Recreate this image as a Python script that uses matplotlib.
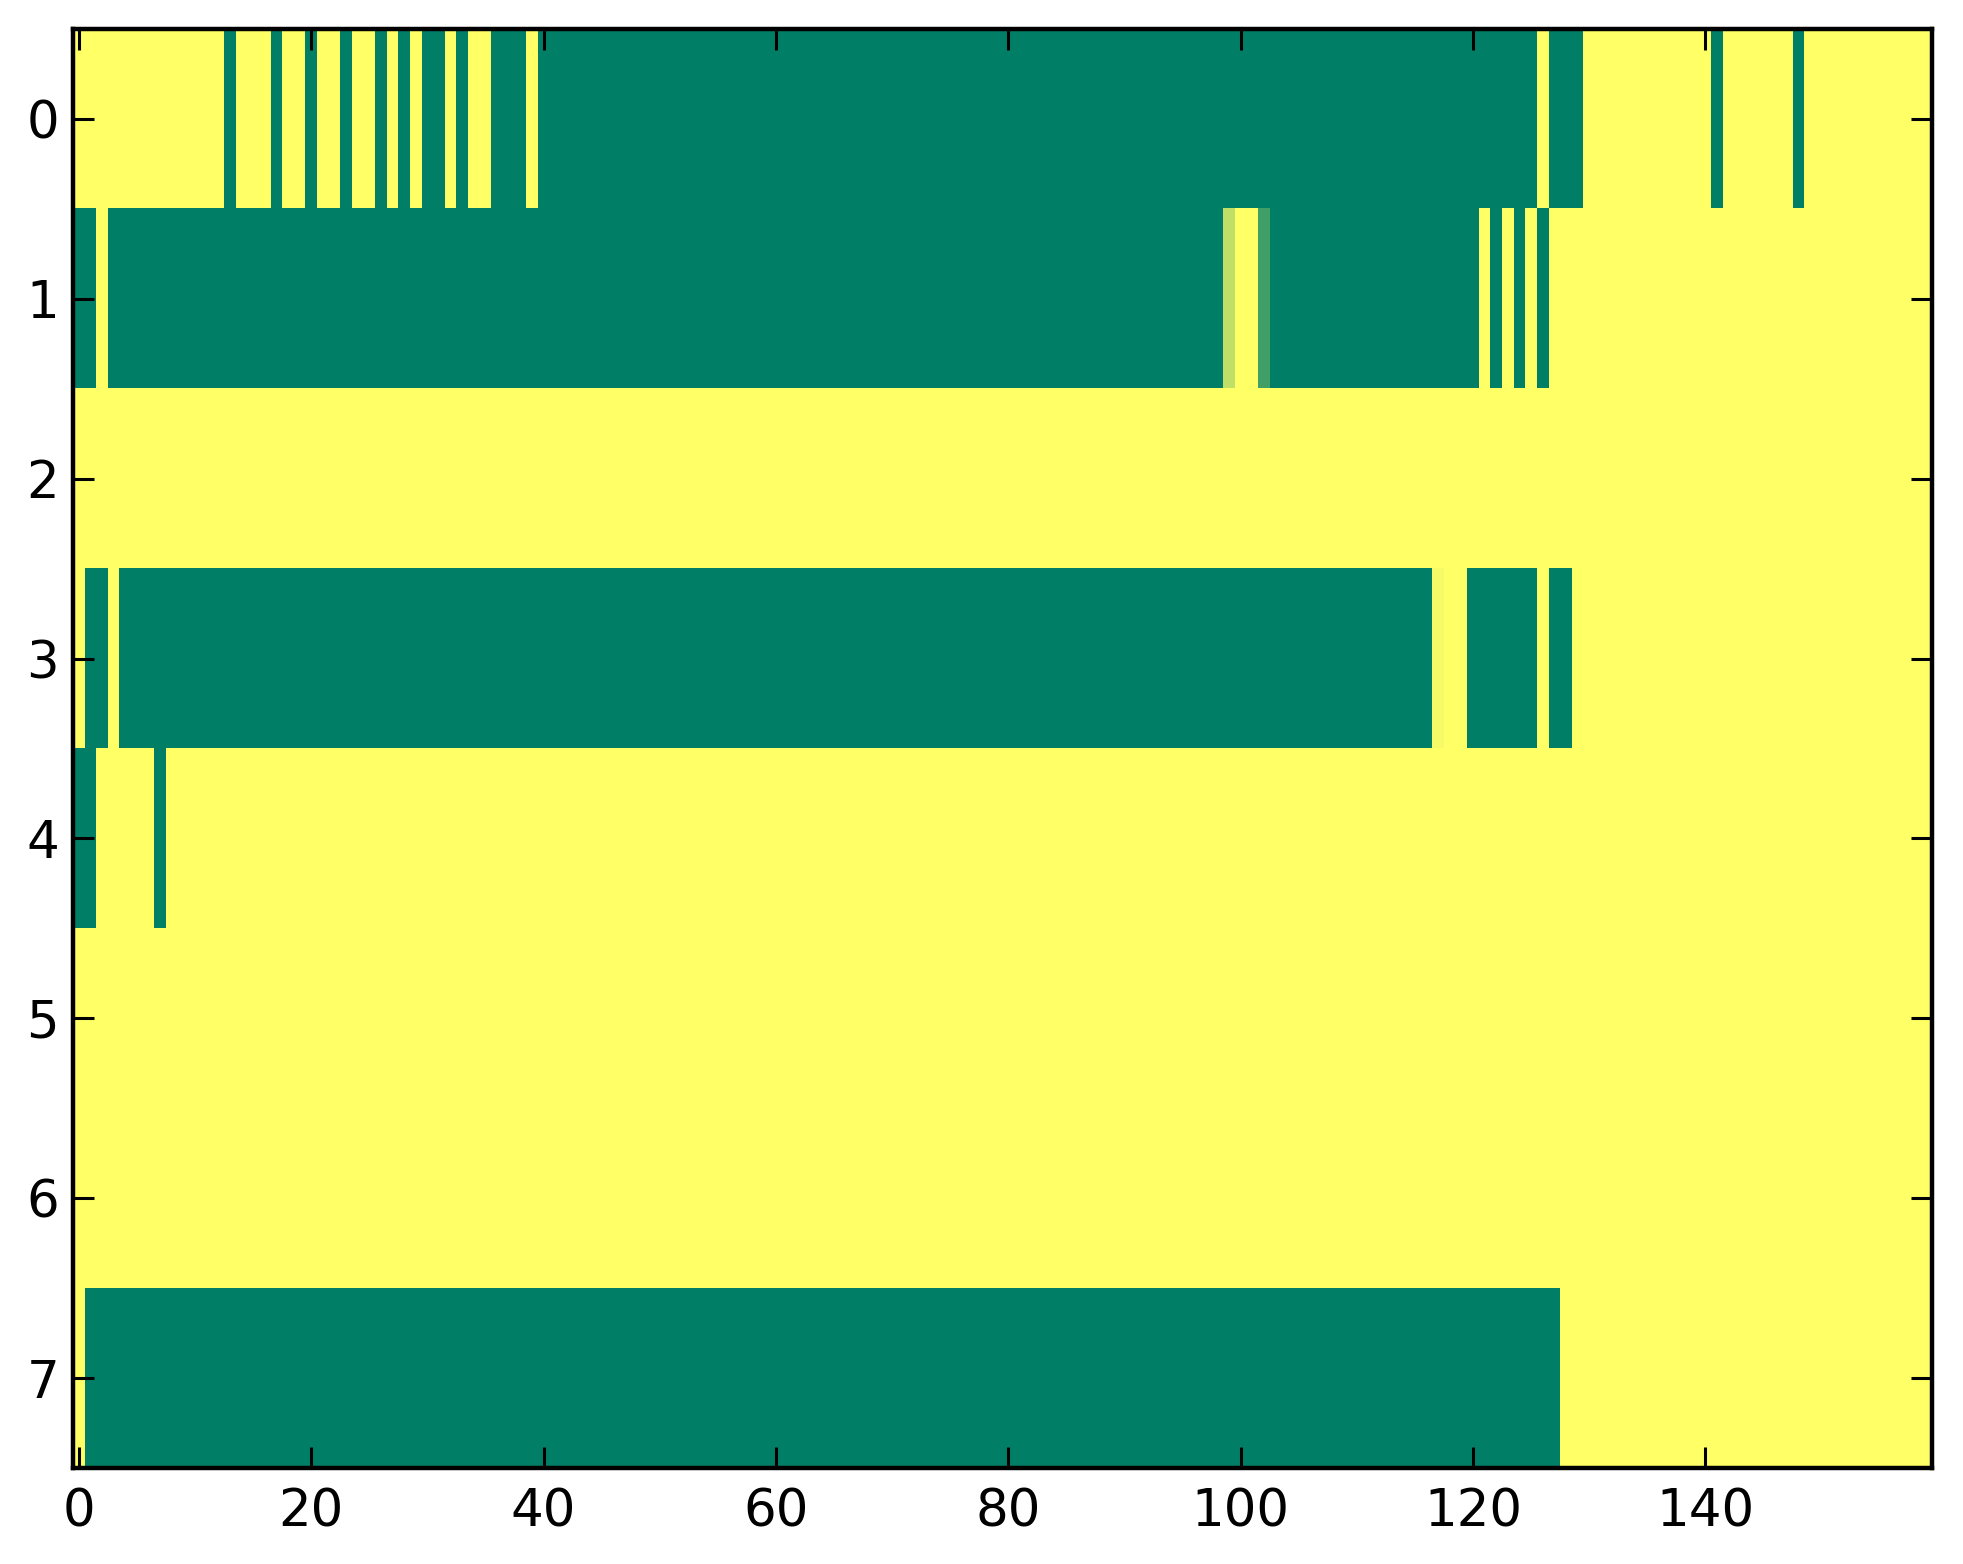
import numpy as np
import matplotlib
matplotlib.use("Agg")
import matplotlib.pyplot as plt

G, Y = 0.0, 1.0
# run-length encoded rows: (value, count)
row0 = [(Y, 13), (G, 1), (Y, 3), (G, 1), (Y, 2), (G, 1), (Y, 2), (G, 1), (Y, 2), (G, 1),
        (Y, 1), (G, 1), (Y, 1), (G, 2), (Y, 1), (G, 1), (Y, 2), (G, 3), (Y, 1), (G, 86),
        (Y, 1), (G, 3), (Y, 11), (G, 1), (Y, 6), (G, 1), (Y, 11)]
row1 = [(G, 2), (Y, 1), (G, 96), (0.75, 1), (Y, 2), (0.25, 1), (G, 18), (Y, 1), (G, 1),
        (Y, 1), (G, 1), (Y, 1), (G, 1), (Y, 33)]
row2 = [(Y, 160)]
row3 = [(Y, 1), (G, 2), (Y, 1), (G, 113), (0.96, 1), (Y, 2), (G, 6), (Y, 1), (G, 2), (Y, 31)]
row4 = [(G, 2), (Y, 5), (G, 1), (Y, 152)]
row5 = [(Y, 160)]
row6 = [(Y, 160)]
row7 = [(Y, 1), (G, 127), (Y, 32)]
rows = [row0, row1, row2, row3, row4, row5, row6, row7]

xticks = [0, 20, 40, 60, 80, 100, 120, 140]
yticks = [0, 1, 2, 3, 4, 5, 6, 7]


def expand(runs):
    vals = [v for v, _ in runs]
    counts = [c for _, c in runs]
    return np.repeat(vals, counts)


data = np.vstack([expand(r) for r in rows])

fig = plt.figure(figsize=(19.63, 15.64), dpi=100)
ax = fig.add_axes([0.0372, 0.0614, 0.9470, 0.9201])
ax.imshow(data, cmap="summer", vmin=0, vmax=1, aspect="auto", interpolation="nearest")
ax.set_xlim(-0.5, data.shape[1] - 0.5)
ax.set_ylim(data.shape[0] - 0.5, -0.5)
ax.set_xticks(xticks)
ax.set_yticks(yticks)
ax.tick_params(direction="in", length=15, width=2.2, labelsize=37,
               top=True, right=True, colors="black")
ax.tick_params(axis="x", pad=14)
ax.tick_params(axis="y", pad=10)
for s in ax.spines.values():
    s.set_linewidth(3.2)

fig.savefig("out.png", dpi=100)
